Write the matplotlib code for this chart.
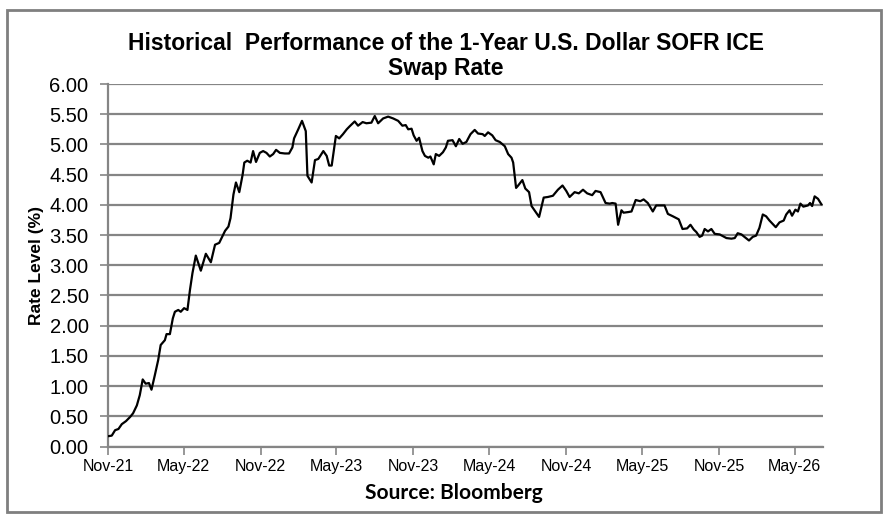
import pandas as pd
import matplotlib
matplotlib.use('Agg')
import matplotlib.pyplot as plt
import matplotlib.dates as mdates
from matplotlib.patches import Rectangle

# days since 1 Nov 2021 and the swap rate (%)
start = pd.Timestamp('2021-11-01')
days_from_start = [
    0, 9, 17, 25, 33, 43, 53, 60, 69, 76, 83, 90, 98, 104, 112, 120, 126, 136, 140, 148,
    155, 160, 168, 174, 182, 190, 196, 202, 210, 222, 234, 246, 256, 266, 280, 288, 293, 300, 306, 314,
    322, 326, 333, 341, 347, 354, 363, 371, 379, 387, 395, 402, 411, 423, 433, 441, 445, 455, 464, 473,
    477, 487, 495, 503, 515, 523, 529, 535, 545, 553, 562, 571, 578, 590, 598, 609, 618, 630, 638, 646,
    658, 670, 682, 694, 704, 712, 718, 726, 731, 738, 744, 752, 758, 766, 771, 779, 784, 792, 801, 808,
    813, 824, 832, 840, 848, 857, 867, 877, 885, 896, 901, 909, 919, 927, 937, 949, 957, 965, 969, 976,
    981, 991, 998, 1007, 1013, 1023, 1031, 1042, 1052, 1064, 1076, 1087, 1096, 1104, 1116, 1126, 1136, 1146, 1158, 1166,
    1178, 1190, 1200, 1206, 1214, 1220, 1228, 1233, 1244, 1252, 1262, 1273, 1281, 1291, 1303, 1311, 1323, 1331, 1339, 1351,
    1365, 1374, 1385, 1393, 1401, 1407, 1415, 1421, 1427, 1435, 1443, 1451, 1463, 1479, 1491, 1499, 1506, 1515, 1522, 1533,
    1542, 1550, 1558, 1566, 1574, 1582, 1597, 1606, 1616, 1622, 1630, 1636, 1644, 1650, 1656, 1663, 1674, 1679, 1684, 1690,
    1698, 1706,
]
rate = [
    0.17, 0.18, 0.27, 0.29, 0.37, 0.42, 0.49, 0.55, 0.68, 0.85, 1.11, 1.04, 1.05, 0.94, 1.18, 1.43, 1.68, 1.76, 1.86, 1.86,
    2.12, 2.23, 2.26, 2.23, 2.29, 2.26, 2.59, 2.87, 3.16, 2.91, 3.19, 3.05, 3.34, 3.37, 3.57, 3.64, 3.78, 4.17, 4.37, 4.21,
    4.50, 4.70, 4.73, 4.70, 4.89, 4.71, 4.86, 4.89, 4.86, 4.80, 4.84, 4.91, 4.86, 4.85, 4.85, 4.95, 5.10, 5.25, 5.39, 5.22,
    4.48, 4.37, 4.74, 4.76, 4.89, 4.81, 4.65, 4.65, 5.14, 5.10, 5.17, 5.25, 5.30, 5.38, 5.31, 5.37, 5.35, 5.36, 5.47, 5.35,
    5.43, 5.46, 5.43, 5.39, 5.31, 5.32, 5.25, 5.26, 5.15, 5.06, 5.11, 4.89, 4.81, 4.78, 4.80, 4.67, 4.84, 4.81, 4.87, 4.95,
    5.06, 5.07, 4.97, 5.09, 5.01, 5.04, 5.17, 5.24, 5.18, 5.17, 5.14, 5.20, 5.15, 5.07, 5.04, 4.97, 4.84, 4.78, 4.70, 4.28,
    4.32, 4.41, 4.27, 4.21, 3.98, 3.88, 3.80, 4.12, 4.13, 4.15, 4.25, 4.32, 4.23, 4.13, 4.21, 4.19, 4.25, 4.19, 4.16, 4.23,
    4.21, 4.03, 4.02, 4.03, 4.02, 3.67, 3.91, 3.87, 3.88, 3.89, 4.08, 4.06, 4.09, 4.03, 3.89, 3.99, 3.99, 3.99, 3.85, 3.81,
    3.76, 3.60, 3.61, 3.67, 3.59, 3.55, 3.47, 3.49, 3.60, 3.56, 3.60, 3.52, 3.51, 3.45, 3.44, 3.45, 3.53, 3.51, 3.47, 3.41,
    3.47, 3.49, 3.62, 3.84, 3.81, 3.74, 3.63, 3.71, 3.74, 3.84, 3.91, 3.82, 3.92, 3.89, 4.02, 3.97, 3.99, 4.03, 3.98, 4.14,
    4.10, 4.01,
]
x_end_days = 1710
y_ticks = [0, 0.5, 1, 1.5, 2, 2.5, 3, 3.5, 4, 4.5, 5, 5.5, 6]

dates = start + pd.to_timedelta(days_from_start, unit='D')

plt.rcParams['font.family'] = ['Liberation Sans', 'DejaVu Sans']
grid_col = '#858585'

fig = plt.figure(figsize=(8.88, 5.21), dpi=100)
# outer frame
fig.patches.append(Rectangle((7 / 888, 9 / 521), 874 / 888, 502 / 521, transform=fig.transFigure,
                             fill=False, edgecolor='#7f7f7f', linewidth=2))

ax = fig.add_axes([108 / 888, 1 - 446.5 / 521, 715 / 888, 362.5 / 521])
ax.plot(dates, rate, color='black', linewidth=1.6, zorder=3)

ax.set_ylim(0, 6)
ax.set_yticks(y_ticks)
ax.yaxis.set_major_formatter(matplotlib.ticker.FormatStrFormatter('%.2f'))
ax.set_xlim(start, start + pd.Timedelta(days=x_end_days))
ax.xaxis.set_major_locator(mdates.MonthLocator(bymonth=[5, 11], bymonthday=1))
ax.xaxis.set_major_formatter(mdates.DateFormatter('%b-%y'))

ax.grid(axis='y', color=grid_col, linewidth=1.6)
ax.set_axisbelow(True)
for s in ['top', 'right']:
    ax.spines[s].set_visible(False)
for s in ['left', 'bottom']:
    ax.spines[s].set_color(grid_col)
    ax.spines[s].set_linewidth(1.6)
ax.tick_params(axis='y', length=6, width=1.2, color=grid_col, labelsize=14.5, pad=8)
ax.tick_params(axis='x', length=6, width=1.2, color=grid_col, labelsize=11.5, pad=3)

ax.set_ylabel('Rate Level (%)', fontsize=12.5, fontweight='bold', labelpad=4)
fig.text(446 / 888, 1 - 56 / 521, 'Historical  Performance of the 1-Year U.S. Dollar SOFR ICE\nSwap Rate',
         ha='center', va='center', fontsize=16.5, fontweight='bold', linespacing=1.12)
fig.text(454 / 888, 1 - 493 / 521, 'Source: Bloomberg', ha='center', va='center',
         fontsize=15, fontweight='bold', family=['Lato', 'DejaVu Sans'])

fig.savefig('out.png', dpi=100)
